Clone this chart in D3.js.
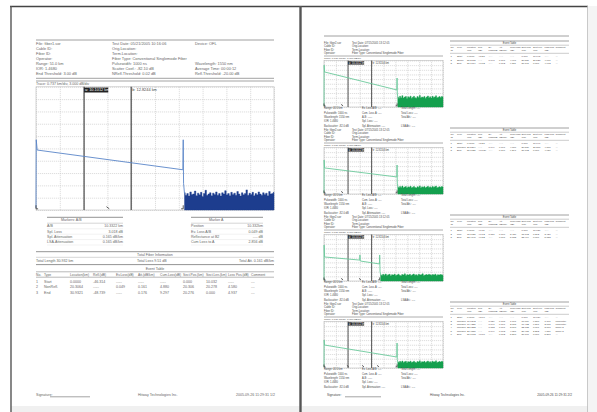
<!DOCTYPE html>
<html><head><meta charset="utf-8">
<script src="https://cdn.jsdelivr.net/npm/d3@7"></script>
<style>html,body{margin:0;padding:0;background:#fff;overflow:hidden}svg{display:block}</style>
</head><body><svg id="c" width="597" height="412"></svg>
<script>
// ---------------- DATA ----------------
const kmDomain = [0, 50];
const dbDomain = [0, 30];
const gridKm = [0,5,10,15,20,25,30,35,40,45,50];
const gridDb = [0,3,6,9,12,15,18,21,24,27,30];
const markerKm = [10.1, 20.0];
const markerLabels = ["a: 10.1012 km", "b: 12.8244 km"];

// page 1 main trace
const mainTraceKm = [0, 0.05, 0.25, 30.85, 30.93, 31.0, 31.2];
const mainTraceDb = [0.5, 17.1, 14.6, 9.8, 17.1, 6.5, 4.0];
const mainNoiseStartKm = 31.2;
const mainNoiseDb = [4.2,3.6,4.0,3.4,4.4,3.8,3.9,4.6,3.5,4.1,3.7,4.3,3.3,4.0,4.8,3.6,3.9,4.2,3.5,4.1,3.8,4.4,3.6,4.0,3.4,4.2,3.9,4.7,3.7,4.0,3.5,4.3,3.8,4.1,3.6,4.5,3.9,3.4,4.2,3.7,4.0,4.9,3.6,4.1,3.8,4.3,3.5,4.0,3.7,4.4,3.9,3.6,4.2,3.8,4.1,3.5,4.5,3.9,4.0,4.3];
const mainEventKm = [0, 15.1, 30.93];

// page 2 traces
const trace1Km = [0, 0.05, 0.25, 30.6, 30.7, 30.8, 31.0];
const trace1Db = [0.5, 27.0, 22.6, 11.0, 18.7, 9.0, 6.4];
const noise1StartKm = 31.0;
const noise1Db = [6.5,5.6,6.9,6.0,7.3,5.8,6.4,6.8,5.5,6.6,6.1,7.0,5.7,6.3,6.9,6.0,5.6,6.7,6.2,7.4,5.9,6.5,6.1,6.8,5.7,6.4,7.1,6.0,6.6,5.8,6.9,6.2,6.5,7.2,5.9,6.3,6.7,6.1,6.8,6.4];
const events1Km = [0, 7.6, 30.7];

const trace2Km = [0, 0.05, 0.25, 30.6, 30.7, 30.8, 31.0];
const trace2Db = [0.5, 21.9, 16.8, 11.0, 18.7, 7.0, 4.5];
const noise2StartKm = 31.0;
const noise2Db = [4.6,4.0,4.9,4.2,5.1,4.1,4.5,4.8,3.9,4.6,4.3,5.0,4.0,4.4,4.9,4.2,3.9,4.7,4.4,5.2,4.1,4.6,4.3,4.8,4.0,4.5,5.0,4.2,4.6,4.1,4.9,4.4,4.6,5.1,4.1,4.4,4.7,4.3,4.8,4.5];
const events2Km = [0, 7.6, 30.7];

const trace3Km = [0, 0.05, 0.25, 15.0, 15.1, 15.25, 23.3, 23.4, 23.55, 23.8];
const trace3Db = [0.5, 23.2, 15.5, 13.5, 16.8, 12.9, 11.0, 16.8, 6.0, 3.9];
const noise3StartKm = 23.8;
const noise3Db = [4.0,3.5,4.3,3.7,4.5,3.6,4.0,4.3,3.4,4.1,3.8,4.4,3.5,3.9,4.4,3.7,3.4,4.2,3.9,4.6,3.6,4.1,3.8,4.3,3.5,4.0,4.5,3.7,4.1,3.6,4.4,3.9,4.1,4.6,3.6,3.9,4.2,3.8,4.3,4.0,3.7,4.2,3.9,4.4,3.6,4.1,3.8,4.2,4.0,3.7];
const events3Km = [0, 7.6, 15.1, 23.4];

const trace4Km = [0, 0.05, 0.25, 30.6, 30.7, 30.8, 31.0];
const trace4Db = [0.5, 18.1, 14.8, 7.1, 16.1, 5.5, 3.9];
const noise4StartKm = 31.0;
const noise4Db = [4.0,3.5,4.3,3.7,4.5,3.6,4.0,4.3,3.4,4.1,3.8,4.4,3.5,3.9,4.4,3.7,3.4,4.2,3.9,4.6,3.6,4.1,3.8,4.3,3.5,4.0,4.5,3.7,4.1,3.6,4.4,3.9,4.1,4.6,3.6,3.9,4.2,3.8,4.3,4.0];
const events4Km = [0, 10.0, 16.4, 22.7, 30.7];

// page 1 texts
const headCol1 = ["File:  fiber1.sor","Cable ID:","Fiber ID:","Operator:","Range:    51.0 km","IOR:     1.4680","End Threshold:    3.00 dB"];
const headCol2 = ["Test Date:  05/21/2005   10:16:06","Orig.Location:","Term.Location:","Fiber Type:  Conventional Singlemode Fiber","Pulsewidth:     1000 ns","Scatter Coef.:   -82.10 dB","NRefl.Threshold:    0.02 dB"];
const headCol3 = ["Device:  OFL","","","","Wavelength:    1550 nm","Average Time:    00:00:12","Refl.Threshold:    -20.00 dB"];
const traceLabel = "Trace:  0.737 km/div,  3.000 dB/div";
const mabTitle = "Markers: A/B";
const mabLabels = ["A/B","Spl. Loss","Spl. Attenuation","LSA-Attenuation"];
const mabValues = ["10.3322 km","3.018 dB","0.165 dB/km","0.165 dB/km"];
const maTitle = "Marker A";
const maLabels = ["Position","Ev. Loss A/B","Reflectance at B2","Cum Loss to A"];
const maValues = ["10.332km","0.049 dB","---- dB","2.856 dB"];
const totalTitle = "Total Fiber Information";
const totalTexts = ["Total Length 30.932 km","Total Loss 9.51 dB","Total Att. 0.161 dB/km"];
const eventTitle = "Event Table";
const eventHeader = ["No.","Type","Location(km)","Refl.(dB)","Ev.Loss(dB)","Att.(dB/km)","Cum.Loss(dB)","Sect.Pos.(km)","Sect.Len.(km)","Loss Pos.(dB)","Comment"];
const eventRows = [
  ["1","Start","0.0000","-46.314","-----","-----","-----","0.000","10.032","-----","---"],
  ["2","NonRefl.","20.3064","-----","0.049","0.161","4.880","20.306","20.278","4.580","---"],
  ["3","End","30.9321","-48.739","-----","0.176","9.297","20.276","0.000","4.937","---"]
];
const footer = ["Signature:", "Hitway Technologies Inc.", "2005-09-26  11:29:31   1/2", "2005-09-26  11:29:31   2/2"];

// page 2 texts
const rHeadCol1 = ["File:  fiber2.sor","Cable ID:","Fiber ID:","Operator:"];
const rHeadCol2 = ["Test Date:  07/15/2005   13:12:05","Orig.Location:","Term.Location:","Fiber Type:  Conventional Singlemode Fiber"];
const rInfoCol1 = ["Range:    40.0 km","Pulsewidth:   1000 ns","Wavelength:   1550 nm","IOR:    1.4680","Backscatter:  -82.0 dB"];
const rInfoCol2 = ["Ev. Loss A/B:  ----","Cum. Loss A:  ----","A-B:  -----","Spl. Loss:  ----","Spl. Attenuation:  ----"];
const rInfoCol3 = ["Total Length:  ----","Total Loss:  ----","Total Att.:  ----","","LSA Att.:  ----"];
const rEvHead1 = ["No.","Type","Location","Refl.","Ev.","Att.","Cum.Loss","Sect.Pos","Sect.Len","Loss Pos.","Comment"];
const rEvHead2 = ["ID","","(km)","(dB)","Loss(dB)","(dB/km)","(dB)","(km)","(km)","(dB)",""];
const rRows1 = [
  ["1","Start","0.0000","-45.21","-----","-----","-----","0.000","10.045","-----","---"],
  ["2","Splice","30.5715","-----","0.048","0.161","4.901","20.527","20.528","4.901","---"],
  ["3","End","30.7714","-47.82","-----","0.162","9.311","30.771","0.000","4.962","---"]
];
const rRows2 = [
  ["1","Start","0.0000","-45.21","-----","-----","-----","0.000","10.046","-----","---"],
  ["2","NonRefl.","20.5364","-----","0.049","0.161","4.880","20.536","20.278","4.880","---"],
  ["3","End","30.6821","-48.739","-----","0.176","9.297","30.682","0.000","4.937","---"]
];
const rRows3 = [
  ["1","Start","0.0000","-46.11","-----","-----","-----","0.000","10.036","-----","---"],
  ["2","Refl.","15.1020","-40.12","0.051","0.160","3.420","15.102","8.312","3.420","---"],
  ["3","End","23.4140","-47.32","-----","0.171","5.133","23.414","0.000","5.133","---"]
];
const rRows4 = [
  ["1","Start","0.0000","-45.76","-----","-----","-----","0.000","10.034","-----","---"],
  ["2","NonRefl.","10.0342","-----","0.039","0.165","1.701","10.034","6.388","1.701","connector"],
  ["3","NonRefl.","16.4220","-----","0.047","0.167","2.815","16.422","6.301","2.815","connector"],
  ["4","NonRefl.","22.7233","-----","0.052","0.161","3.878","22.723","8.001","3.878","splice 2"],
  ["5","NonRefl.","28.4550","-----","0.049","0.163","4.851","28.455","2.252","4.851","splice 3"],
  ["6","End","30.7073","-48.10","-----","0.172","5.218","30.707","0.000","5.218","---"]
];

// ---------------- DRAW ----------------
const svg = d3.select("#c");
const FONT = "'Liberation Sans', Arial, sans-serif";
let TXT = "#666";

function text(g, x, y, s, size, opts = {}) {
  return g.append("text").attr("x", x).attr("y", y).text(s)
    .attr("font-family", FONT).attr("font-size", size)
    .attr("fill", opts.fill || TXT)
    .attr("text-anchor", opts.anchor || "start")
    .attr("dominant-baseline", "middle")
    .attr("font-weight", opts.weight || "normal");
}
function hline(g, x1, x2, y, color = "#888", w = 0.7) {
  g.append("line").attr("x1", x1).attr("x2", x2).attr("y1", y).attr("y2", y)
    .attr("stroke", color).attr("stroke-width", w);
}

// frame
svg.append("rect").attr("x", 0).attr("y", 0).attr("width", 597).attr("height", 412).attr("fill", "#fff");
svg.append("rect").attr("x", 11).attr("y", 406).attr("width", 289).attr("height", 6).attr("fill", "#f0f0f0");
svg.append("rect").attr("x", 302).attr("y", 406).attr("width", 286).attr("height", 6).attr("fill", "#f0f0f0");
svg.append("rect").attr("x", 588).attr("y", 6).attr("width", 9).attr("height", 406).attr("fill", "#f4f4f4");
svg.append("line").attr("x1", 10).attr("x2", 588).attr("y1", 6.5).attr("y2", 6.5).attr("stroke", "#444").attr("stroke-width", 1.6);
svg.append("line").attr("x1", 11).attr("x2", 11).attr("y1", 6).attr("y2", 412).attr("stroke", "#555").attr("stroke-width", 1.4);
svg.append("line").attr("x1", 300.5).attr("x2", 300.5).attr("y1", 6).attr("y2", 412).attr("stroke", "#555").attr("stroke-width", 2.4);
svg.append("line").attr("x1", 587.5).attr("x2", 587.5).attr("y1", 6).attr("y2", 412).attr("stroke", "#bbb").attr("stroke-width", 0.8);

function drawChart(g, box, tKm, tDb, nStart, nDb, evKm, lineColor, fillColor, labelSize, markerW) {
  const x = d3.scaleLinear().domain(kmDomain).range([box.x0, box.x1]);
  const y = d3.scaleLinear().domain(dbDomain).range([box.y1, box.y0]);
  const h = box.y1 - box.y0, w = box.x1 - box.x0;
  const gx = g.append("g").attr("transform", `translate(0,${box.y1})`)
    .call(d3.axisBottom(x).tickValues(gridKm).tickSize(-h).tickFormat(""));
  const gy = g.append("g").attr("transform", `translate(${box.x0},0)`)
    .call(d3.axisLeft(y).tickValues(gridDb).tickSize(-w).tickFormat(""));
  [gx, gy].forEach(a => {
    a.select(".domain").remove();
    a.selectAll("line").attr("stroke", "#c8c8c8").attr("stroke-width", 0.6).attr("stroke-dasharray", "1.2,0.8");
  });
  g.append("rect").attr("x", box.x0).attr("y", box.y0).attr("width", w).attr("height", h)
    .attr("fill", "none").attr("stroke", "#bbb").attr("stroke-width", 0.6);
  markerKm.forEach((m) => {
    g.append("line").attr("x1", x(m)).attr("x2", x(m)).attr("y1", box.y0).attr("y2", box.y1)
      .attr("stroke", "#555").attr("stroke-width", markerW);
  });
  const nx = d3.scaleLinear().domain([0, nDb.length - 1]).range([x(nStart), x(kmDomain[1])]);
  g.append("path").datum(nDb)
    .attr("d", d3.area().x((d, i) => nx(i)).y0(y(0)).y1(d => y(d)).curve(d3.curveStep))
    .attr("fill", fillColor).attr("stroke", fillColor).attr("stroke-width", 0.4);
  g.append("path").datum(d3.range(tKm.length))
    .attr("d", d3.line().x(i => x(tKm[i])).y(i => y(tDb[i])))
    .attr("fill", "none").attr("stroke", lineColor).attr("stroke-width", 0.9);
  const lab0 = g.append("g");
  const lw = labelSize * 6.2, lh = labelSize * 1.25;
  lab0.append("rect").attr("x", x(markerKm[0])).attr("y", box.y0 + 0.8).attr("width", lw).attr("height", lh).attr("fill", "#222");
  text(lab0, x(markerKm[0]) + 0.8, box.y0 + 0.8 + lh / 2, markerLabels[0], labelSize, { fill: "#fff" });
  text(g, x(markerKm[1]) + 1, box.y0 + 0.8 + lh / 2, markerLabels[1], labelSize, { fill: "#444" });
  evKm.forEach((e, i) => {
    const ex = x(e), by = box.y1 - 1.2;
    const s = labelSize * 0.9;
    let d;
    if (i === 0) d = `M${ex},${by - s}L${ex},${by}L${ex + s * 0.6},${by}`;
    else if (i === evKm.length - 1) d = `M${ex},${by - s}L${ex},${by}L${ex - s * 0.6},${by}`;
    else d = `M${ex - s * 0.4},${by - s * 0.6}L${ex + s * 0.4},${by}`;
    g.append("path").attr("d", d).attr("fill", "none").attr("stroke", "#333").attr("stroke-width", 0.8);
  });
}

// ---------- PAGE 1 ----------
const p1 = svg.append("g");
hline(p1, 36, 274, 40, "#888", 0.8);
const hy = [43.5, 48.5, 53.5, 58.5, 63.5, 68.5, 73.5];
headCol1.forEach((s, i) => text(p1, 36, hy[i], s, 3.9));
headCol2.forEach((s, i) => text(p1, 112, hy[i], s, 3.9));
headCol3.forEach((s, i) => text(p1, 195, hy[i], s, 3.9));
hline(p1, 36, 274, 78.3, "#999", 0.9);
hline(p1, 36, 274, 81, "#999", 0.9);
text(p1, 36, 84.2, traceLabel, 3.6);
drawChart(p1, { x0: 36, x1: 274, y0: 86.8, y1: 210 }, mainTraceKm, mainTraceDb, mainNoiseStartKm, mainNoiseDb,
  mainEventKm, "#5a86c8", "#1d3d8e", 3.9, 1.3);

function markTable(g, x0, x1, tx, title, labels, values) {
  hline(g, x0, x1, 217.3, "#888", 0.9);
  text(g, tx, 220.5, title, 3.6);
  hline(g, x0, x1, 223.2, "#aaa", 0.5);
  const ry = [226.3, 231.7, 237.1, 242.5];
  labels.forEach((s, i) => {
    text(g, x0, ry[i], s, 3.6);
    text(g, x1, ry[i], values[i], 3.6, { anchor: "end" });
    hline(g, x0, x1, ry[i] + 2.5, "#ddd", 0.4);
  });
}
markTable(p1, 47, 123, 61, mabTitle, mabLabels, mabValues);
markTable(p1, 191, 263, 209, maTitle, maLabels, maValues);

hline(p1, 36, 274, 251.7, "#888", 0.9);
text(p1, 155, 254.6, totalTitle, 3.6, { anchor: "middle" });
hline(p1, 36, 274, 257.3, "#aaa", 0.5);
text(p1, 36, 261, totalTexts[0], 3.6);
text(p1, 137, 261, totalTexts[1], 3.6);
text(p1, 274, 261, totalTexts[2], 3.6, { anchor: "end" });
hline(p1, 36, 274, 264.6, "#888", 0.9);
text(p1, 155, 268.8, eventTitle, 3.6, { anchor: "middle" });
hline(p1, 36, 274, 271.8, "#888", 0.6);
const evCols = [36, 44, 70, 93, 116, 138, 160, 183, 206, 228, 251];
eventHeader.forEach((s, i) => text(p1, evCols[i], 274.8, s, 3.3));
hline(p1, 36, 274, 277.2, "#888", 0.6);
eventRows.forEach((r, j) => r.forEach((s, i) => text(p1, evCols[i], 282 + j * 5.3, s, 3.6)));

text(p1, 36, 395, footer[0], 3.6);
hline(p1, 50, 90, 396.8, "#666", 0.6);
text(p1, 138, 395, footer[1], 3.6);
text(p1, 275, 395, footer[2], 3.6, { anchor: "end" });

// ---------- PAGE 2 ----------
TXT = "#474747";
const p2 = svg.append("g");
hline(p2, 324, 569, 36, "#888", 0.8);
const blocks = [
  { tKm: trace1Km, tDb: trace1Db, ns: noise1StartKm, nDb: noise1Db, ev: events1Km, rows: rRows1 },
  { tKm: trace2Km, tDb: trace2Db, ns: noise2StartKm, nDb: noise2Db, ev: events2Km, rows: rRows2 },
  { tKm: trace3Km, tDb: trace3Db, ns: noise3StartKm, nDb: noise3Db, ev: events3Km, rows: rRows3 },
  { tKm: trace4Km, tDb: trace4Db, ns: noise4StartKm, nDb: noise4Db, ev: events4Km, rows: rRows4 }
];
const rCols = [450.5, 457, 467, 478, 488.5, 499, 510, 521.5, 533, 544.5, 555.5];
blocks.forEach((b, k) => {
  const o = 87 * k;
  const g = p2.append("g");
  [43.3, 46.7, 50, 53.3].forEach((yy, i) => {
    text(g, 324, yy + o, rHeadCol1[i], 2.7);
    text(g, 352, yy + o, rHeadCol2[i], 2.7);
  });
  hline(g, 324, 443, 56 + o, "#999", 0.8);
  text(g, 324, 58.3 + o, traceLabel, 2.5);
  drawChart(g, { x0: 324, x1: 443, y0: 60.5 + o, y1: 107 + o }, b.tKm, b.tDb, b.ns, b.nDb, b.ev,
    "#6cc99c", "#14a04e", 2.6, 1.0);
  [108.8, 113.1, 117.4, 121.7, 126.0].forEach((yy, i) => {
    text(g, 324, yy + o, rInfoCol1[i], 2.6);
    text(g, 362, yy + o, rInfoCol2[i], 2.6);
    text(g, 401, yy + o, rInfoCol3[i], 2.6);
  });
  hline(g, 450, 569, 41 + o, "#888", 0.8);
  text(g, 509.5, 43.2 + o, eventTitle, 2.6, { anchor: "middle" });
  hline(g, 450, 569, 45.2 + o, "#999", 0.5);
  rEvHead1.forEach((s, i) => text(g, rCols[i], 47.8 + o, s, 2.3));
  rEvHead2.forEach((s, i) => text(g, rCols[i], 50.8 + o, s, 2.3));
  hline(g, 450, 569, 53.3 + o, "#999", 0.5);
  b.rows.forEach((r, j) => r.forEach((s, i) => text(g, rCols[i], 56.7 + o + j * 3.3, s, 2.4)));
});
text(p2, 327, 395, footer[0], 3.2);
hline(p2, 345, 381, 396.8, "#666", 0.6);
text(p2, 430, 395, footer[1], 3.2);
text(p2, 572, 395, footer[3], 3.2, { anchor: "end" });
</script>
</body></html>
